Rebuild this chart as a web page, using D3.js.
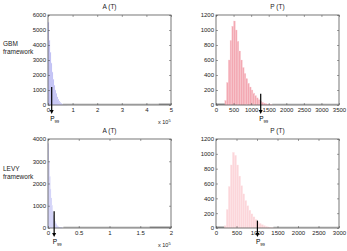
<!DOCTYPE html>
<html>
<head>
<meta charset="utf-8">
<script src="https://cdn.jsdelivr.net/npm/d3@7"></script>
<style>
  body { margin: 0; background: #fff; }
  svg { font-family: "Liberation Sans", Arial, sans-serif; }
  .tick text { font-size: 6px; fill: #222; }
</style>
</head>
<body>
<svg id="chart"></svg>
<script>
var width = 347;
var height = 251;

// A(T) histogram, GBM framework (x in units of 10^5, bin width 0.04)
var aGbmStart = 0, aGbmBin = 0.04;
var aGbmCounts = [5500, 4300, 3500, 2800, 2200, 1700, 1300, 1000, 750, 540, 380, 260, 170, 110, 70, 42, 25, 14, 8, 4];
// A(T) histogram, LEVY framework (x in units of 10^5, bin width 0.012)
var aLevyStart = 0, aLevyBin = 0.012;
var aLevyCounts = [3800, 3000, 2300, 1750, 1350, 1020, 770, 570, 420, 300, 210, 145, 100, 68, 45, 30, 19, 12, 7, 4];
// P(T) histogram, GBM framework (bin width 50)
var pGbmStart = 250, pGbmBin = 50;
var pGbmCounts = [60, 300, 600, 860, 1050, 1120, 1000, 850, 720, 600, 500, 420, 350, 290, 240, 200, 160, 125, 95, 70, 50, 35, 25, 17, 12, 8, 5];
// P(T) histogram, LEVY framework (bin width 50)
var pLevyStart = 200, pLevyBin = 50;
var pLevyCounts = [30, 250, 560, 850, 1020, 980, 850, 700, 570, 460, 370, 300, 240, 190, 150, 115, 85, 62, 45, 32, 22, 15, 10, 6, 4];

// 99th percentile markers
var p99 = { aGbm: 0.15, aLevy: 0.1, pGbm: 1272, pLevy: 1010 };

var xTicksAGbm = [0, 1, 2, 3, 4, 5];
var xTicksALevy = [0, 0.5, 1, 1.5, 2];
var xTicksPGbm = [0, 500, 1000, 1500, 2000, 2500, 3000, 3500];
var xTicksPLevy = [0, 500, 1000, 1500, 2000, 2500, 3000];
var yTicksAGbm = [0, 1000, 2000, 3000, 4000, 5000, 6000];
var yTicksALevy = [0, 1000, 2000, 3000, 4000];
var yTicksP = [0, 200, 400, 600, 800, 1000, 1200];

var rowLabels = ["GBM", "LEVY"];

var svg = d3.select("#chart").attr("width", width).attr("height", height);

var panels = [
  { title: "A (T)", left: 48, right: 171, top: 15, bottom: 105, xDom: [0, 5], yDom: [0, 6000],
    xTicks: xTicksAGbm, yTicks: yTicksAGbm, start: aGbmStart, bin: aGbmBin, counts: aGbmCounts,
    fill: "#b8b8f2", stroke: "#d4d4f8", p99: p99.aGbm, arrowTop: 1200, mult: true,
    tail: [[0.6, 4.5, "#c8c8c8"], [4.5, 5, "#8a8a8a"]] },
  { title: "P (T)", left: 216, right: 339, top: 15, bottom: 105, xDom: [0, 3500], yDom: [0, 1200],
    xTicks: xTicksPGbm, yTicks: yTicksP, start: pGbmStart, bin: pGbmBin, counts: pGbmCounts,
    fill: "#f3a8b2", stroke: "#f9d0d6", p99: p99.pGbm, arrowTop: 150, mult: false,
    tail: [[0, 250, "#8a8a8a"], [1600, 3500, "#cccccc"]] },
  { title: "A (T)", left: 48, right: 171, top: 139, bottom: 228, xDom: [0, 2], yDom: [0, 4000],
    xTicks: xTicksALevy, yTicks: yTicksALevy, start: aLevyStart, bin: aLevyBin, counts: aLevyCounts,
    fill: "#c4c4f4", stroke: "#dcdcfa", p99: p99.aLevy, arrowTop: 750, mult: true,
    tail: [[0.25, 1.65, "#c8c8c8"], [1.65, 2, "#8a8a8a"]] },
  { title: "P (T)", left: 216, right: 339, top: 139, bottom: 228, xDom: [0, 3000], yDom: [0, 1200],
    xTicks: xTicksPLevy, yTicks: yTicksP, start: pLevyStart, bin: pLevyBin, counts: pLevyCounts,
    fill: "#fcd6da", stroke: "#fde8ea", p99: p99.pLevy, arrowTop: 100, mult: false,
    tail: [[0, 200, "#8a8a8a"], [1400, 3000, "#cccccc"]] }
];

panels.forEach(function(p) {
  var x = d3.scaleLinear().domain(p.xDom).range([p.left, p.right]);
  var y = d3.scaleLinear().domain(p.yDom).range([p.bottom, p.top]);
  var g = svg.append("g");

  // bars
  var bars = p.counts.map(function(c, i) { return { x0: p.start + i * p.bin, c: c }; });
  g.selectAll("rect.bar").data(bars).enter().append("rect")
    .attr("class", "bar")
    .attr("x", function(d) { return x(d.x0); })
    .attr("width", function(d) { return x(d.x0 + p.bin) - x(d.x0); })
    .attr("y", function(d) { return y(d.c); })
    .attr("height", function(d) { return y(0) - y(d.c); })
    .attr("fill", p.fill)
    .attr("stroke", p.stroke)
    .attr("stroke-width", 0.3);

  // low-count tail along the baseline
  p.tail.forEach(function(t) {
    g.append("line")
      .attr("x1", x(t[0])).attr("x2", x(t[1]))
      .attr("y1", y(0) - 0.8).attr("y2", y(0) - 0.8)
      .attr("stroke", t[2]).attr("stroke-width", 1.4);
  });

  // axes, MATLAB style ticks pointing inwards
  var fmt = d3.format("");
  var ax = d3.axisBottom(x).tickValues(p.xTicks).tickSize(-2).tickPadding(3).tickFormat(fmt);
  var ay = d3.axisLeft(y).tickValues(p.yTicks).tickSize(-2).tickPadding(2).tickFormat(fmt);
  g.append("g").attr("transform", "translate(0," + p.bottom + ")").call(ax);
  g.append("g").attr("transform", "translate(" + p.left + ",0)").call(ay);
  g.append("g").attr("transform", "translate(0," + p.top + ")")
    .call(d3.axisTop(x).tickValues(p.xTicks).tickSize(-2).tickFormat(""));
  g.append("g").attr("transform", "translate(" + p.right + ",0)")
    .call(d3.axisRight(y).tickValues(p.yTicks).tickSize(-2).tickFormat(""));
  g.selectAll(".domain").attr("stroke", "none");
  g.selectAll(".tick line").attr("stroke", "#444").attr("stroke-width", 0.5);

  g.append("rect")
    .attr("x", p.left).attr("y", p.top)
    .attr("width", p.right - p.left).attr("height", p.bottom - p.top)
    .attr("fill", "none").attr("stroke", "#555").attr("stroke-width", 0.8);

  // title
  svg.append("text")
    .attr("x", (p.left + p.right) / 2).attr("y", p.top - 6)
    .attr("text-anchor", "middle").style("font-size", "6.5px").attr("fill", "#222")
    .text(p.title);

  // x 10^5 multiplier
  if (p.mult) {
    var m = svg.append("text")
      .attr("x", p.right - 13).attr("y", p.bottom + 19)
      .style("font-size", "5.5px").attr("fill", "#222");
    m.append("tspan").text("x 10");
    m.append("tspan").attr("dy", -2.5).style("font-size", "4px").text("5");
  }

  // P99 arrow
  var ax0 = x(p.p99);
  var tipY = p.bottom + 9;
  svg.append("line")
    .attr("x1", ax0).attr("x2", ax0)
    .attr("y1", y(p.arrowTop)).attr("y2", tipY - 3)
    .attr("stroke", "#000").attr("stroke-width", 1.2);
  svg.append("path")
    .attr("d", "M" + (ax0 - 2) + "," + (tipY - 4) + "L" + (ax0 + 2) + "," + (tipY - 4) +
      "L" + ax0 + "," + tipY + "Z")
    .attr("fill", "#000");
  var lab = svg.append("text")
    .attr("x", ax0 - 1.5).attr("y", p.bottom + 15.5)
    .style("font-size", "6.5px").attr("fill", "#000");
  lab.append("tspan").text("P");
  lab.append("tspan").attr("dy", 2.2).style("font-size", "4.2px").text("99");
});

// row labels
rowLabels.forEach(function(r, i) {
  var yy = i === 0 ? 46 : 171;
  var t = svg.append("text").attr("x", 3).attr("y", yy)
    .style("font-size", "6.5px").attr("fill", "#222");
  t.append("tspan").attr("x", 3).text(r);
  t.append("tspan").attr("x", 3).attr("dy", 7.5).text("framework");
});
</script>
</body>
</html>
